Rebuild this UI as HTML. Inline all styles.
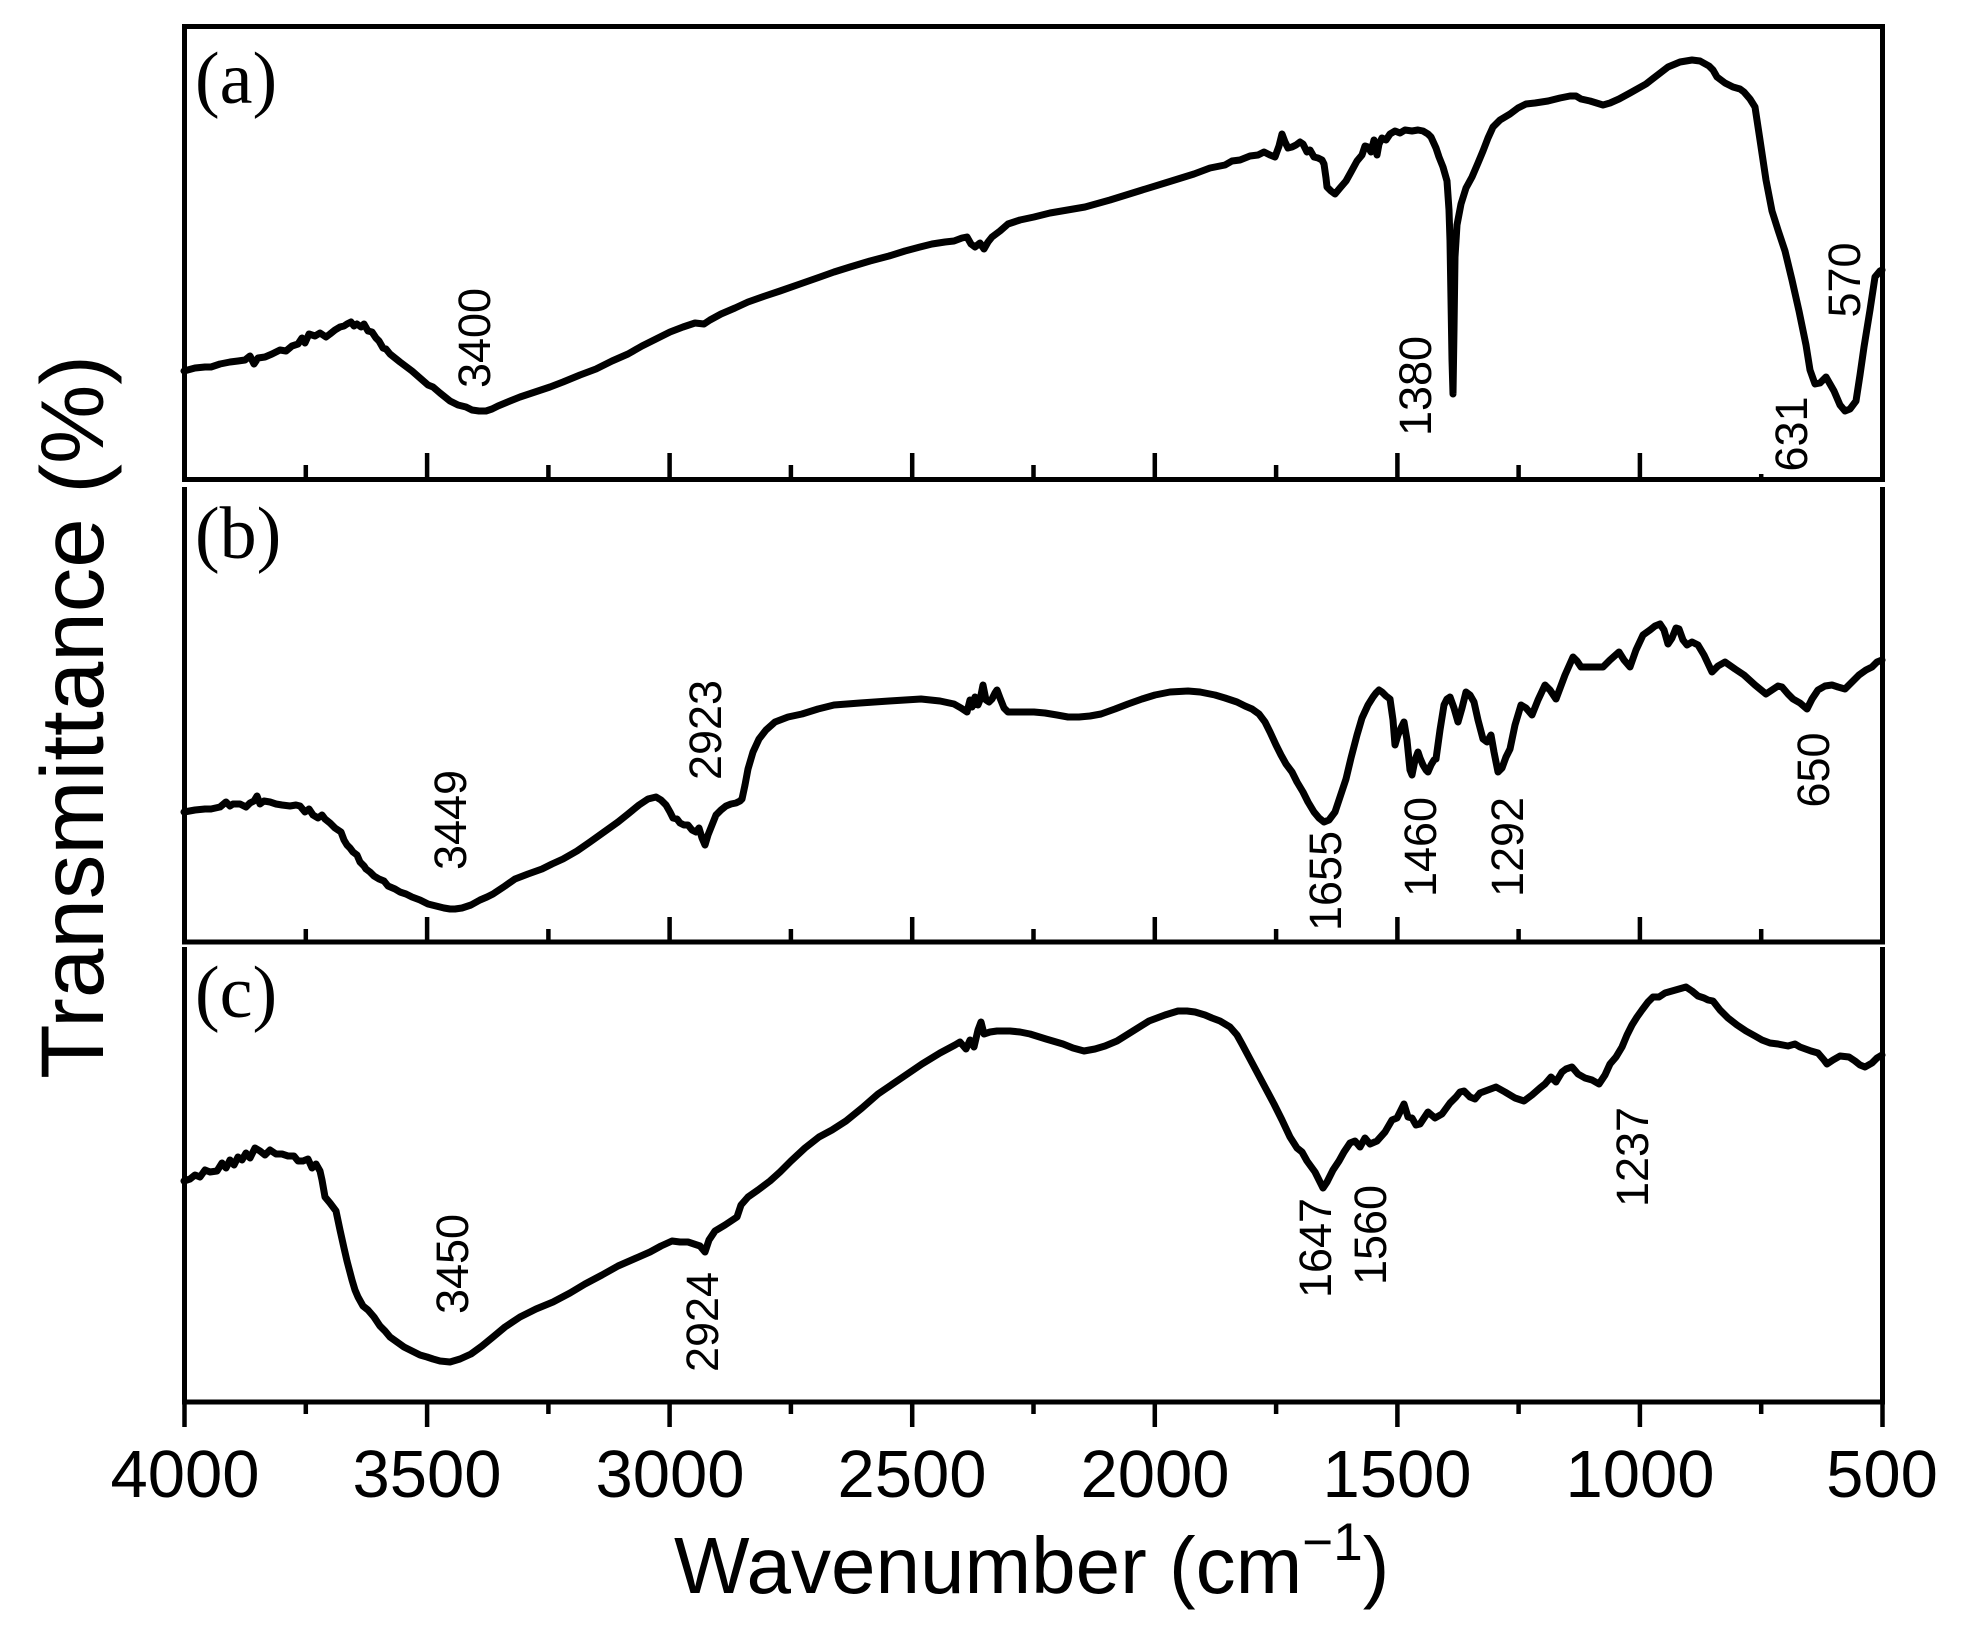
<!DOCTYPE html>
<html>
<head>
<meta charset="utf-8">
<style>
html,body{margin:0;padding:0;background:#fff;}
svg{display:block;}
</style>
</head>
<body>
<svg xmlns="http://www.w3.org/2000/svg" width="1975" height="1645" viewBox="0 0 1975 1645">
<rect x="0" y="0" width="1975" height="1645" fill="#fff"/>

<!-- Frames -->
<g fill="none" stroke="#000" stroke-width="5">
  <path d="M184.5,26.5 H1882.5 V479.5 H184.5 Z" stroke-linejoin="miter"/>
  <path d="M184.5,487 V942 H1882.5 V487"/>
  <path d="M184.5,947 V1402 H1882.5 V947"/>
</g>

<!-- Ticks panel a (inward, up) -->
<g stroke="#000" stroke-width="4.5">
  <line x1="305.8" y1="477" x2="305.8" y2="465"/>
  <line x1="427.1" y1="477" x2="427.1" y2="453"/>
  <line x1="548.4" y1="477" x2="548.4" y2="465"/>
  <line x1="669.6" y1="477" x2="669.6" y2="453"/>
  <line x1="790.9" y1="477" x2="790.9" y2="465"/>
  <line x1="912.2" y1="477" x2="912.2" y2="453"/>
  <line x1="1033.5" y1="477" x2="1033.5" y2="465"/>
  <line x1="1154.8" y1="477" x2="1154.8" y2="453"/>
  <line x1="1276.1" y1="477" x2="1276.1" y2="465"/>
  <line x1="1397.4" y1="477" x2="1397.4" y2="453"/>
  <line x1="1518.6" y1="477" x2="1518.6" y2="465"/>
  <line x1="1639.9" y1="477" x2="1639.9" y2="453"/>
  <line x1="1761.2" y1="477" x2="1761.2" y2="474"/>
</g>
<!-- Ticks panel b -->
<g stroke="#000" stroke-width="4.5">
  <line x1="305.8" y1="940" x2="305.8" y2="929"/>
  <line x1="427.1" y1="940" x2="427.1" y2="917"/>
  <line x1="548.4" y1="940" x2="548.4" y2="929"/>
  <line x1="669.6" y1="940" x2="669.6" y2="917"/>
  <line x1="790.9" y1="940" x2="790.9" y2="929"/>
  <line x1="912.2" y1="940" x2="912.2" y2="917"/>
  <line x1="1033.5" y1="940" x2="1033.5" y2="929"/>
  <line x1="1154.8" y1="940" x2="1154.8" y2="917"/>
  <line x1="1276.1" y1="940" x2="1276.1" y2="929"/>
  <line x1="1397.4" y1="940" x2="1397.4" y2="917"/>
  <line x1="1518.6" y1="940" x2="1518.6" y2="929"/>
  <line x1="1639.9" y1="940" x2="1639.9" y2="917"/>
  <line x1="1761.2" y1="940" x2="1761.2" y2="929"/>
</g>
<!-- Ticks panel c (outward, down) -->
<g stroke="#000" stroke-width="4.5">
  <line x1="184.5" y1="1402" x2="184.5" y2="1427"/>
  <line x1="305.8" y1="1402" x2="305.8" y2="1414"/>
  <line x1="427.1" y1="1402" x2="427.1" y2="1427"/>
  <line x1="548.4" y1="1402" x2="548.4" y2="1414"/>
  <line x1="669.6" y1="1402" x2="669.6" y2="1427"/>
  <line x1="790.9" y1="1402" x2="790.9" y2="1414"/>
  <line x1="912.2" y1="1402" x2="912.2" y2="1427"/>
  <line x1="1033.5" y1="1402" x2="1033.5" y2="1414"/>
  <line x1="1154.8" y1="1402" x2="1154.8" y2="1427"/>
  <line x1="1276.1" y1="1402" x2="1276.1" y2="1414"/>
  <line x1="1397.4" y1="1402" x2="1397.4" y2="1427"/>
  <line x1="1518.6" y1="1402" x2="1518.6" y2="1414"/>
  <line x1="1639.9" y1="1402" x2="1639.9" y2="1427"/>
  <line x1="1761.2" y1="1402" x2="1761.2" y2="1414"/>
  <line x1="1882.5" y1="1402" x2="1882.5" y2="1427"/>
</g>

<!-- Curves -->
<g fill="none" stroke="#000" stroke-width="7" stroke-linejoin="round" stroke-linecap="round">
<polyline points="184,371 195,368 205,367 211,367 220,364 230,362 238,361 245,360 250,356 254,364 258,358 265,357 272,354 280,350 286,351 292,346 298,344 302,338 305,343 309,334 315,336 320,333 326,337 330,334 335,330 340,327 344,326 347,324 351,322 354,326 357,324 361,327 364,324 368,331 372,332 376,338 379,341 383,348 386,349 390,354 400,362 412,371 420,378 428,385 433,387 440,393 450,401 458,405 466,407 472,410 479,411 486,411 492,409 498,406 510,401 520,397 535,392 550,387 563,382 580,375 596,369 612,361 628,354 642,346 656,339 670,332 683,327 695,323 704,324 710,320 721,314 735,308 748,302 765,296 780,291 800,284 820,277 834,272 850,267 870,261 889,256 905,251 920,247 932,244 945,242 954,241 962,238 967,237 971,244 975,247 980,243 984,249 988,242 992,237 1000,231 1008,224 1020,220 1034,217 1050,213 1085,207 1110,200 1139,191 1165,183 1194,174 1210,168 1225,165 1232,161 1240,160 1250,156 1258,155 1264,152 1270,155 1275,157 1279,146 1282,134 1285,142 1288,148 1292,147 1296,145 1300,142 1303,144 1307,152 1310,150 1314,157 1318,158 1322,160 1324,164 1326,178 1327,187 1331,191 1335,194 1340,188 1346,181 1351,172 1357,161 1362,155 1365,146 1368,147 1371,152 1374,140 1377,155 1379,144 1382,138 1386,140 1390,134 1395,131 1400,133 1405,130 1412,131 1418,130 1423,131 1428,134 1431,137 1436,148 1439,157 1443,167 1447,181 1449,210 1450,241 1451,300 1452,360 1453,394 1454,330 1455,257 1457,225 1461,204 1466,188 1472,177 1478,163 1483,151 1488,138 1493,127 1500,120 1510,114 1518,108 1526,104 1535,103 1548,101 1560,98 1570,96 1576,96 1581,99 1590,101 1603,105 1610,103 1619,99 1630,93 1646,84 1655,77 1668,67 1680,62 1692,60 1700,61 1709,66 1713,70 1717,77 1725,83 1733,87 1740,89 1744,92 1750,99 1755,107 1760,140 1766,180 1772,211 1778,230 1785,251 1792,280 1799,311 1806,345 1810,370 1815,384 1820,383 1826,377 1830,384 1834,391 1840,405 1845,411 1850,409 1856,401 1860,375 1864,347 1870,310 1875,277 1880,271 1882,270"/>

<polyline points="184,812 195,810 205,809 211,809 220,807 226,802 230,806 233,804 240,804 246,807 250,803 254,801 257,796 260,804 264,801 270,802 276,804 282,805 290,806 296,805 300,806 305,812 309,809 313,815 318,818 322,815 325,819 330,823 335,828 341,832 344,840 347,845 350,848 353,852 357,855 360,862 364,866 366,869 370,872 374,876 379,879 384,881 388,886 395,889 400,892 406,894 412,897 420,900 428,904 436,906 444,908 450,909 455,909 462,908 471,905 480,900 487,897 493,894 505,886 515,879 528,874 542,869 552,864 563,859 577,851 590,842 604,832 618,822 628,814 639,805 648,799 656,797 661,800 666,805 670,812 673,818 677,819 680,823 684,825 688,825 692,830 696,832 699,828 702,838 705,845 708,835 712,825 716,815 721,810 726,806 731,804 736,803 740,801 742,799 745,785 748,769 753,752 759,739 766,730 775,722 788,717 802,714 818,709 834,705 860,703 889,701 905,700 921,699 940,701 954,704 961,708 967,712 970,700 972,707 975,697 978,705 980,700 983,685 986,700 989,702 992,699 995,693 997,690 1000,698 1004,708 1008,712 1020,712 1034,712 1045,713 1057,715 1068,717 1079,717 1090,716 1101,714 1115,709 1128,704 1142,699 1155,695 1170,692 1188,691 1200,692 1210,694 1215,695 1225,698 1237,702 1245,706 1252,709 1259,714 1265,722 1270,732 1276,745 1281,755 1286,764 1292,772 1297,782 1303,792 1308,802 1314,812 1319,818 1324,822 1329,820 1335,812 1340,797 1346,779 1351,758 1357,735 1362,718 1368,705 1373,697 1376,693 1379,690 1382,692 1386,696 1390,699 1393,720 1395,745 1398,735 1401,728 1404,722 1407,740 1410,770 1412,775 1415,760 1418,752 1420,758 1423,765 1426,770 1428,772 1431,765 1434,760 1436,759 1440,730 1444,705 1447,699 1450,697 1454,708 1458,722 1462,708 1466,692 1470,695 1474,702 1478,720 1483,739 1487,742 1491,735 1494,752 1498,772 1502,768 1506,757 1510,749 1515,725 1521,705 1526,708 1532,715 1538,700 1545,685 1550,690 1556,699 1565,675 1573,657 1577,661 1581,667 1592,667 1603,667 1610,660 1619,652 1624,660 1630,667 1636,650 1643,635 1650,630 1655,626 1660,624 1664,630 1668,644 1672,638 1676,628 1679,629 1683,640 1687,645 1692,642 1698,645 1704,655 1712,672 1718,666 1725,662 1735,669 1744,675 1755,685 1766,694 1772,690 1778,686 1782,687 1788,694 1793,699 1800,703 1807,709 1812,699 1818,690 1825,686 1832,685 1838,687 1845,689 1852,682 1859,675 1866,670 1872,667 1877,662 1882,660"/>

<polyline points="184,1181 190,1179 195,1175 200,1177 205,1170 210,1172 217,1171 222,1163 226,1168 230,1160 234,1165 238,1157 242,1160 246,1153 250,1158 255,1148 260,1151 265,1155 270,1150 276,1154 282,1154 288,1156 294,1156 298,1161 303,1161 308,1159 312,1168 316,1164 320,1171 322,1180 325,1197 330,1203 336,1211 340,1230 344,1248 347,1261 352,1280 355,1290 358,1297 363,1306 368,1310 374,1317 380,1326 385,1331 390,1337 397,1342 404,1347 412,1351 420,1355 427,1357 433,1359 440,1361 450,1362 460,1359 471,1354 482,1346 493,1337 505,1327 520,1317 536,1309 553,1302 570,1293 585,1284 602,1275 618,1266 634,1259 650,1252 661,1246 672,1241 680,1242 688,1242 694,1244 700,1246 705,1252 709,1240 715,1231 725,1225 737,1217 741,1205 748,1197 758,1190 770,1181 780,1172 791,1161 805,1148 819,1137 832,1130 846,1121 862,1108 878,1094 900,1079 922,1064 940,1053 955,1045 960,1042 966,1049 970,1040 974,1047 978,1030 981,1022 984,1034 990,1032 997,1031 1010,1031 1020,1032 1030,1034 1046,1039 1063,1044 1073,1048 1084,1051 1095,1049 1105,1046 1117,1041 1133,1031 1149,1021 1165,1015 1178,1011 1187,1011 1195,1012 1205,1015 1212,1018 1220,1021 1230,1027 1237,1035 1242,1044 1250,1059 1258,1074 1266,1089 1274,1104 1282,1120 1290,1137 1297,1148 1302,1152 1307,1161 1315,1172 1320,1182 1323,1188 1327,1182 1333,1170 1339,1161 1344,1152 1350,1143 1355,1141 1360,1147 1365,1138 1370,1144 1377,1141 1385,1132 1392,1120 1397,1118 1404,1104 1408,1117 1412,1118 1416,1125 1420,1124 1428,1112 1435,1118 1442,1114 1450,1103 1456,1097 1460,1092 1464,1091 1470,1097 1475,1099 1480,1093 1488,1090 1496,1087 1505,1092 1515,1098 1524,1101 1532,1095 1540,1088 1545,1084 1551,1077 1556,1082 1562,1072 1566,1069 1572,1067 1578,1074 1585,1078 1592,1080 1599,1084 1605,1075 1610,1064 1616,1057 1622,1047 1627,1035 1632,1025 1637,1017 1642,1010 1648,1002 1653,997 1659,997 1665,993 1672,991 1679,989 1686,987 1692,991 1698,996 1704,998 1708,1000 1713,1001 1720,1010 1728,1018 1737,1025 1746,1031 1755,1036 1762,1040 1770,1043 1778,1044 1788,1046 1795,1044 1800,1047 1811,1051 1818,1053 1824,1060 1827,1064 1833,1060 1840,1056 1849,1057 1855,1061 1860,1065 1865,1067 1872,1063 1877,1058 1882,1055"/>
</g>

<!-- Panel labels -->
<g font-family="'Liberation Serif', serif" font-size="74" fill="#000">
  <text x="195" y="103">(a)</text>
  <text x="195" y="558">(b)</text>
  <text x="195" y="1017">(c)</text>
</g>

<!-- Peak annotations -->
<g font-family="'Liberation Sans', Arial, sans-serif" font-size="45" fill="#000" text-anchor="middle">
  <text transform="translate(490,338) rotate(-90)">3400</text>
  <text transform="translate(1431,386) rotate(-90)">1380</text>
  <text transform="translate(1807,434) rotate(-90)">631</text>
  <text transform="translate(1860,280) rotate(-90)">570</text>

  <text transform="translate(466,820) rotate(-90)">3449</text>
  <text transform="translate(721,730) rotate(-90)">2923</text>
  <text transform="translate(1341,881) rotate(-90)">1655</text>
  <text transform="translate(1436,847) rotate(-90)">1460</text>
  <text transform="translate(1523,847) rotate(-90)">1292</text>
  <text transform="translate(1829,770) rotate(-90)">650</text>

  <text transform="translate(468,1264) rotate(-90)">3450</text>
  <text transform="translate(718,1322) rotate(-90)">2924</text>
  <text transform="translate(1331,1248) rotate(-90)">1647</text>
  <text transform="translate(1386,1235) rotate(-90)">1560</text>
  <text transform="translate(1648,1157) rotate(-90)">1237</text>
</g>

<!-- X tick labels -->
<g font-family="'Liberation Sans', Arial, sans-serif" font-size="67" fill="#000" text-anchor="middle">
  <text x="185" y="1497">4000</text>
  <text x="427" y="1497">3500</text>
  <text x="670" y="1497">3000</text>
  <text x="912" y="1497">2500</text>
  <text x="1155" y="1497">2000</text>
  <text x="1397" y="1497">1500</text>
  <text x="1640" y="1497">1000</text>
  <text x="1882" y="1497">500</text>
</g>

<!-- Axis titles -->
<text x="674" y="1593" font-family="'Liberation Sans', Arial, sans-serif" font-size="80" fill="#000">Wavenumber (cm<tspan font-size="53" dy="-33">−1</tspan><tspan dy="33">)</tspan></text>

<text transform="translate(103,717) rotate(-90)" font-family="'Liberation Sans', Arial, sans-serif" font-size="89" fill="#000" text-anchor="middle">Transmittance (%)</text>
</svg>
</body>
</html>
